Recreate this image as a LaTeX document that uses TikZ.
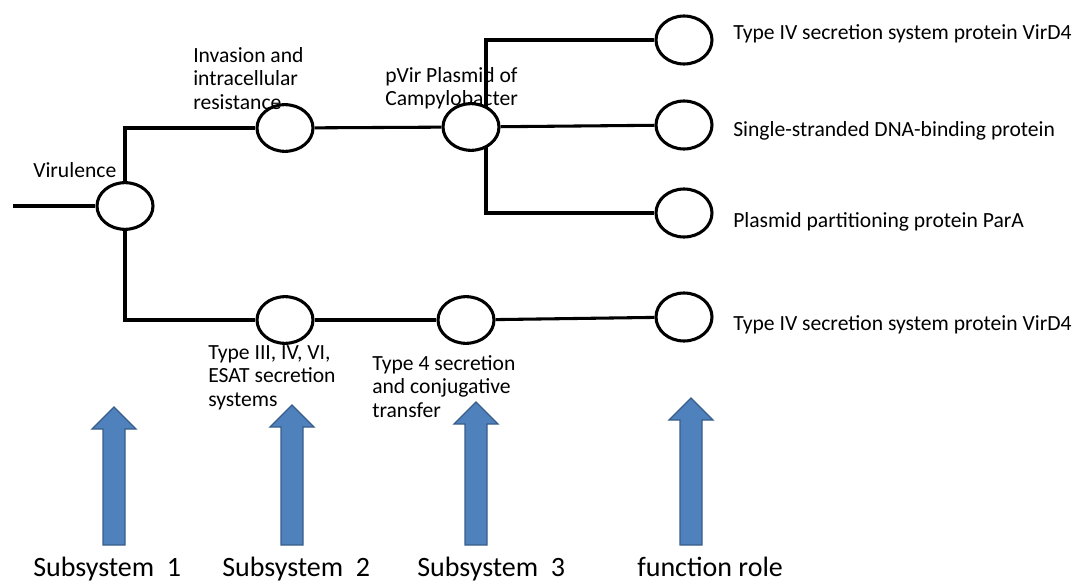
\documentclass[tikz,border=0pt]{standalone}
\usepackage{fontspec}
\setmainfont{Carlito}
\usepackage{tikz}
\usepackage{xcolor}
\usetikzlibrary{shapes.geometric, positioning, backgrounds}
\definecolor{arrow-blue}{RGB}{79,129,189}
\definecolor{arrow-edge}{RGB}{56,93,138}

\begin{document}
\begin{tikzpicture}[
  x=0.75pt, y=-0.75pt,
  junction/.style={draw, ellipse, line width=2.3pt, fill=white, minimum width=42pt, minimum height=35pt, inner sep=0pt},
  role/.style={junction, minimum height=36pt},
  lbl/.style={anchor=north west, align=left, inner sep=0pt, font=\fontsize{16.2}{17.6}\selectfont},
  rolelbl/.style={anchor=base west, inner sep=0pt, font=\fontsize{16.2}{17.6}\selectfont},
  levellbl/.style={anchor=base west, inner sep=0pt, font=\fontsize{21}{25}\selectfont},
  link/.style={line width=2.3pt},
  uparrow/.style={fill=arrow-blue, draw=arrow-edge, line width=1pt, line join=miter},
]
  \useasboundingbox (0,0) rectangle (1078,585);

  % Tree nodes
  \node[junction] (vir) at (125,206) {};
  \node[junction] (inv) at (285,128) {};
  \node[junction] (sec) at (285,320) {};
  \node[junction] (pvir) at (471,127) {};
  \node[junction] (t4ss) at (466,320) {};

  % Function roles
  \node[role] (virD4a) at (684,40) {};
  \node[role] (ssb) at (684,125) {};
  \node[role] (parA) at (684,213) {};
  \node[role] (virD4b) at (684,317) {};

  \coordinate (root) at (13,206);
  \coordinate (fork) at (486,127);

  % Connectors
  \begin{scope}[on background layer]
    \draw[link] (root) -- (vir);
    \draw[link] (vir.north) |- (inv);
    \draw[link] (vir.south) |- (sec);
    \draw[link] (inv) -- (pvir);
    \draw[link] (sec) -- (t4ss);
    \draw[link] (t4ss) -- (virD4b);
    \draw[link] (pvir) -- (ssb);
    \draw[link] (virD4a) -| (fork) |- (parA);
  \end{scope}

  % Labels of the tree
  \node[rolelbl] (virlbl) at (33,177) {Virulence};
  \node[lbl] (invlbl) at (193,47) {Invasion and\\intracellular\\resistance};
  \node[lbl] (pvirlbl) at (385,67) {pVir Plasmid of\\Campylobacter};
  \node[lbl] (seclbl) at (208,345) {Type III, IV, VI,\\ESAT secretion\\systems};
  \node[lbl] (t4sslbl) at (372,355) {Type 4 secretion\\and conjugative\\transfer};

  % Labels of the roles
  \node[rolelbl] (virD4albl) at (733,40) {Type IV secretion system protein VirD4};
  \node[rolelbl] (ssblbl) at (733,137) {Single-stranded DNA-binding protein};
  \node[rolelbl] (parAlbl) at (733,227) {Plasmid partitioning protein ParA};
  \node[rolelbl] (virD4blbl) at (733,330) {Type IV secretion system protein VirD4};

  % Level arrows
  \foreach \ax/\at in {114/407, 292/405, 476/402, 691/398}
    \draw[uparrow] (\ax-11,545) -- (\ax-11,\at+22) -- (\ax-22,\at+22) -- (\ax,\at)
      -- (\ax+22,\at+22) -- (\ax+11,\at+22) -- (\ax+11,545) -- cycle;

  % Levels
  \node[levellbl] (sub1) at (33,576) {Subsystem~~1};
  \node[levellbl] (sub2) at (222,576) {Subsystem~~2};
  \node[levellbl] (sub3) at (417,576) {Subsystem~~3};
  \node[levellbl] (frole) at (637,576) {function role};
\end{tikzpicture}
\end{document}
